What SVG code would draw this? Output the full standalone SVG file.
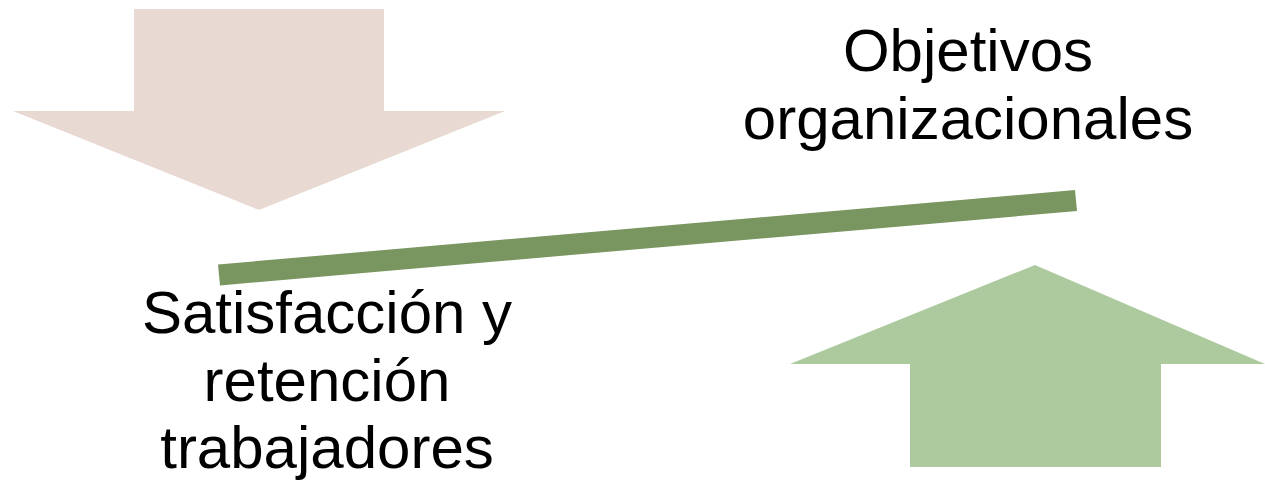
<svg xmlns="http://www.w3.org/2000/svg" width="1265" height="482" viewBox="0 0 1265 482">
<style>
.t{font-family:"Liberation Sans",Arial,sans-serif;font-size:60px;fill:#000;text-anchor:middle}
</style>
<rect width="1265" height="482" fill="#fff"/>
<g id="arrow-down"><polygon points="134,9 384,9 384,111 505,111 259,210 13,111 134,111" fill="#E8D9D2"/></g>
<g id="arrow-up"><polygon points="910,467 1161,467 1161,364 1265,364 1035,265 790,364 910,364" fill="#ADCA9F"/></g>
<g id="connectors"><polygon points="218,264.5 1075,190 1077,211 220,285.5" fill="#7A9660"/></g>
<g id="label-objetivos"><text class="t" x="968" y="71">Objetivos</text><text class="t" x="968" y="138.5">organizacionales</text></g>
<g id="label-satisfaccion"><text class="t" x="327" y="333">Satisfacción y</text><text class="t" x="327" y="401">retención</text><text class="t" x="327" y="468">trabajadores</text></g>
</svg>
